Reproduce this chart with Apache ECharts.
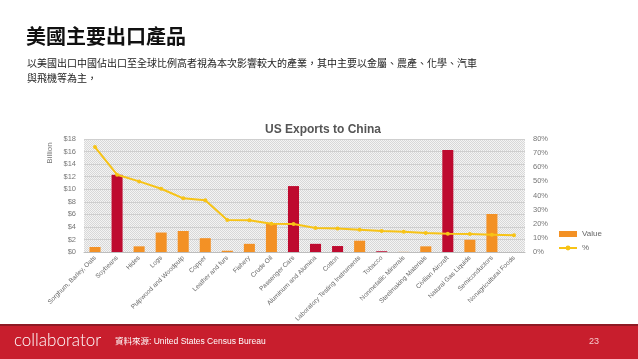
<!DOCTYPE html>
<html>
<head>
<meta charset="utf-8">
<script src="https://cdn.jsdelivr.net/npm/echarts@6/dist/echarts.min.js"></script>
<style>
html,body{margin:0;padding:0;background:#fff;}
#c{width:638px;height:359px;}
</style>
</head>
<body>
<div id="c"></div>
<script>
const categories = ["Sorghum, Barley, Oats","Soybeans","Hides","Logs","Pulpwood and Woodpulp","Copper","Leather and furs","Fishery","Crude Oil","Passenger Cars","Aluminum and Alumina","Cotton","Laboratory Testing Instruments","Tobacco","Nonmetallic Minerals","Steelmaking Materials","Civilian Aircraft","Natural Gas Liquids","Semiconductors","Nonagricultural Foods"];
const valueBillion = [0.8,12.3,0.9,3.1,3.35,2.2,0.2,1.3,4.55,10.5,1.3,0.95,1.8,0.12,0.02,0.9,16.25,1.95,6.05,0.0];
const percentShare = [74.3,54.7,50.0,44.8,38.0,36.6,22.6,22.4,20.0,19.8,17.0,16.7,15.8,14.9,14.4,13.4,13.0,12.7,12.3,11.8];
const highlighted = ["Soybeans","Passenger Cars","Aluminum and Alumina","Cotton","Tobacco","Civilian Aircraft"];
const leftTicks = {min:0,max:18,interval:2};
const rightTicks = {min:0,max:80,interval:10};

const ORANGE = '#f39125';
const RED = '#be0a2f';
const GOLD = '#f7c316';

// dotted background pattern
const pc = document.createElement('canvas');
pc.width = 2; pc.height = 2;
const px = pc.getContext('2d');
px.fillStyle = '#f4f4f4'; px.fillRect(0,0,2,2);
px.fillStyle = '#d8d8d8'; px.fillRect(0,0,1,1); px.fillRect(1,1,1,1);

const chart = echarts.init(document.getElementById('c'), null, {renderer:'canvas'});
const FF = 'Liberation Sans, Arial, sans-serif';
const CJK = '"Noto Sans CJK TC", "Noto Sans CJK SC", sans-serif';
chart.setOption({
  animation:false,
  backgroundColor:'#fff',
  title:{
    text:'US Exports to China', left:318, top:119, textAlign:'center',
    textStyle:{fontFamily:FF,fontSize:12,fontWeight:'bold',color:'#555'}
  },
  legend:{
    orient:'vertical', left:553, top:225, itemWidth:18, itemHeight:6, itemGap:6,
    textStyle:{fontFamily:FF,fontSize:8,color:'#666'},
    data:[{name:'Value', icon:'rect'},{name:'%'}]
  },
  grid:{left:84,right:113,top:139,bottom:107,show:true,borderWidth:0,
    backgroundColor:{image:pc,repeat:'repeat'}},
  xAxis:{
    type:'category', data:categories,
    axisLine:{show:true,lineStyle:{color:'#bdbdbd'}},
    axisTick:{show:false},
    axisLabel:{rotate:45,interval:0,fontFamily:FF,fontSize:6.5,color:'#666',margin:5}
  },
  yAxis:[{
    type:'value', min:leftTicks.min, max:leftTicks.max, interval:leftTicks.interval,
    axisLine:{show:false}, axisTick:{show:false},
    axisLabel:{formatter:'${value}',fontFamily:FF,fontSize:7.5,color:'#777',margin:8},
    splitLine:{lineStyle:{color:'#cfcfcf',width:1}}
  },{
    type:'value', min:rightTicks.min, max:rightTicks.max, interval:rightTicks.interval,
    axisLine:{show:false}, axisTick:{show:false},
    axisLabel:{formatter:'{value}%',fontFamily:FF,fontSize:7.5,color:'#777',margin:8},
    splitLine:{show:false}
  }],
  series:[{
    name:'Value', type:'bar', barWidth:'50%',
    data:valueBillion.map((v,i)=>({value:v,itemStyle:{color: highlighted.includes(categories[i]) ? RED : ORANGE}})),
    itemStyle:{color:ORANGE}
  },{
    name:'%', type:'line', yAxisIndex:1, data:percentShare,
    symbol:'circle', symbolSize:4, lineStyle:{color:GOLD,width:2}, itemStyle:{color:GOLD}
  }],
  graphic:[
    {type:'text', left:26, top:26, style:{text:'美國主要出口產品', font:'bold 20px '+CJK, fill:'#111'}},
    {type:'text', left:27, top:56, style:{text:'以美國出口中國佔出口至全球比例高者視為本次影響較大的產業，其中主要以金屬、農產、化學、汽車\n與飛機等為主，', font:'10px '+CJK, fill:'#222', lineHeight:14.5}},
    {type:'text', x:50, y:153, rotation:Math.PI/2, style:{text:'Billion', font:'8px '+FF, fill:'#777', align:'center', verticalAlign:'middle'}},
    {type:'rect', shape:{x:0,y:324,width:638,height:35}, style:{fill:'#c81e2d'}},
    {type:'rect', shape:{x:0,y:324,width:638,height:2}, style:{fill:'#8e1a24'}},
    {type:'text', left:14, top:332, style:{text:'collaborator', font:'300 17px Lato, sans-serif', fill:'#fff'}},
    {type:'text', left:115, top:337, style:{text:'資料來源: United States Census Bureau', font:'8.5px Liberation Sans, "Noto Sans CJK TC", sans-serif', fill:'#fff'}},
    {type:'text', left:589, top:337, style:{text:'23', font:'9px '+FF, fill:'#f6c9cc'}}
  ]
});
</script>
</body>
</html>
